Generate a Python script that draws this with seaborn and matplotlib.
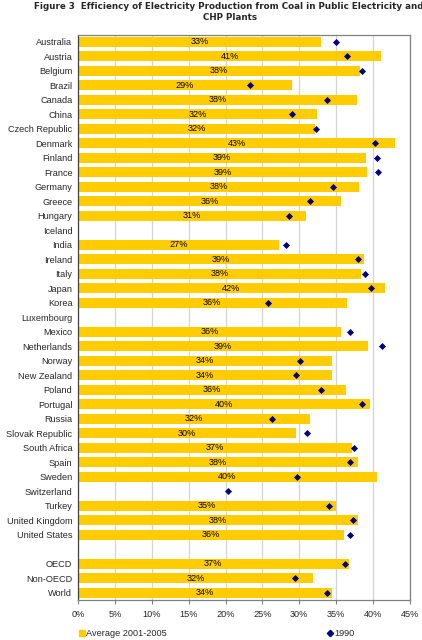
import numpy as np
import pandas as pd
import matplotlib
matplotlib.use("Agg")
import matplotlib.pyplot as plt
from matplotlib.lines import Line2D
from matplotlib.ticker import PercentFormatter, MultipleLocator
import seaborn as sns

countries = ["Australia", "Austria", "Belgium", "Brazil", "Canada", "China",
             "Czech Republic", "Denmark", "Finland", "France", "Germany", "Greece",
             "Hungary", "Iceland", "India", "Ireland", "Italy", "Japan", "Korea",
             "Luxembourg", "Mexico", "Netherlands", "Norway", "New Zealand", "Poland",
             "Portugal", "Russia", "Slovak Republic", "South Africa", "Spain", "Sweden",
             "Switzerland", "Turkey", "United Kingdom", "United States", " ",
             "OECD", "Non-OECD", "World"]

avg_2001_2005 = [32.9, 41.1, 38.2, 29.0, 37.8, 32.4,
                 32.1, 43.0, 39.0, 39.2, 38.1, 35.7,
                 30.9, np.nan, 27.3, 38.8, 38.4, 41.6, 36.4,
                 np.nan, 35.7, 39.3, 34.4, 34.4, 36.3,
                 39.6, 31.5, 29.6, 37.2, 37.9, 40.5,
                 np.nan, 35.0, 37.9, 36.1, np.nan,
                 36.7, 31.9, 34.4]

y1990 = [35.0, 36.5, 38.5, 23.3, 33.7, 29.0,
         32.2, 40.2, 40.5, 40.7, 34.5, 31.4,
         28.6, np.nan, 28.2, 37.9, 38.9, 39.7, 25.8,
         np.nan, 36.9, 41.2, 30.1, 29.6, 32.9,
         38.5, 26.3, 31.0, 37.4, 36.9, 29.7,
         20.3, 34.0, 37.3, 36.8, np.nan,
         36.2, 29.4, 33.7]

bar_labels = ["33%", "41%", "38%", "29%", "38%", "32%",
              "32%", "43%", "39%", "39%", "38%", "36%",
              "31%", "", "27%", "39%", "38%", "42%", "36%",
              "", "36%", "39%", "34%", "34%", "36%",
              "40%", "32%", "30%", "37%", "38%", "40%",
              "", "35%", "38%", "36%", "",
              "37%", "32%", "34%"]

title_line1 = "Figure 3  Efficiency of Electricity Production from Coal in Public Electricity and"
title_line2 = "CHP Plants"
legend_labels = ["Average 2001-2005", "1990"]

df = pd.DataFrame({"country": countries, "avg": avg_2001_2005, "y1990": y1990,
                   "label": bar_labels})

sns.set_style("white")
plt.rcParams["font.family"] = ["Liberation Sans", "DejaVu Sans"]

BAR = "#FFCC00"
DIAM = "#000080"
FS = 6.6

fig = plt.figure(figsize=(4.22, 6.4), dpi=100)
ax = fig.add_axes([78 / 422, 40 / 640, 332 / 422, 565.5 / 640])

sns.barplot(data=df, x="avg", y="country", order=countries, orient="h",
            color=BAR, saturation=1, width=0.7, linewidth=0, ax=ax, zorder=2)
sns.stripplot(data=df, x="y1990", y="country", order=countries, orient="h",
              jitter=False, marker="D", size=3.6, color=DIAM, linewidth=0,
              ax=ax, zorder=3)

# value labels centred in bars
cont = ax.containers[0]
labs = [l for v, l in zip(avg_2001_2005, bar_labels) if not np.isnan(v)]
if len(labs) != len(cont.patches):
    labs = bar_labels[:len(cont.patches)]
ax.bar_label(cont, labels=labs, label_type="center", fontsize=FS, color="black")

ax.set_xlim(0, 45)
ax.set_ylim(len(countries) - 0.5, -0.5)
ax.xaxis.set_major_locator(MultipleLocator(5))
ax.xaxis.set_major_formatter(PercentFormatter(decimals=0))
ax.grid(axis="x", color="#D4D4D4", linewidth=0.9, zorder=0)
ax.set_axisbelow(True)
ax.set_xlabel("")
ax.set_ylabel("")
ax.tick_params(axis="x", labelsize=FS, length=3, width=0.8, color="#808080",
               direction="out", pad=4, bottom=True)
ax.tick_params(axis="y", labelsize=FS, length=0, pad=4)
for s in ["top", "right"]:
    ax.spines[s].set_color("#808080")
    ax.spines[s].set_linewidth(0.9)
ax.spines["left"].set_color("#404040")
ax.spines["left"].set_linewidth(0.9)
ax.spines["bottom"].set_color("#808080")
ax.spines["bottom"].set_linewidth(0.9)

fig.text(34 / 422, 1 - 2 / 640, title_line1, ha="left", va="top", fontsize=6.3,
         fontweight="bold", family=["DejaVu Sans"])
fig.text(230 / 422, 1 - 13 / 640, title_line2, ha="center", va="top", fontsize=6.3,
         fontweight="bold", family=["DejaVu Sans"])

handles = [Line2D([], [], marker="s", linestyle="none", color=BAR, markersize=5),
           Line2D([], [], marker="D", linestyle="none", color=DIAM, markersize=3.2)]
fig.legend(handles, legend_labels, loc="center left", bbox_to_anchor=(79 / 422, 1 - 634 / 640),
           ncol=2, frameon=False, fontsize=FS, handlelength=0.6, handletextpad=0.2,
           columnspacing=17.5, borderaxespad=0, borderpad=0)

fig.savefig("out.png", dpi=100)
